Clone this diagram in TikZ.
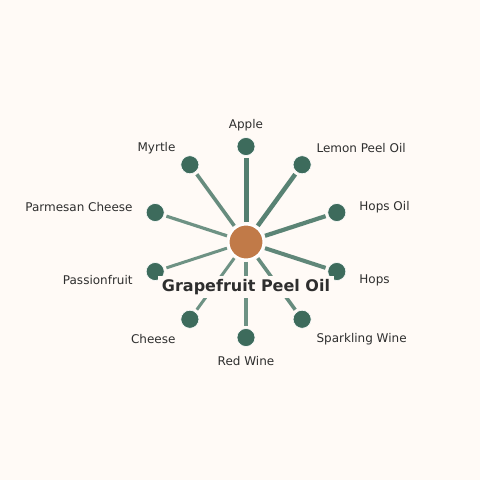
\documentclass[tikz,border=0pt]{standalone}
\usepackage{fontspec}
\setmainfont{DejaVu Sans}
\usetikzlibrary{calc}
\definecolor{bg}{HTML}{FFFAF6}
\definecolor{leaf}{HTML}{3D6B5C}
\definecolor{hub}{HTML}{C17A48}
\definecolor{edgec}{HTML}{4A7868}
\definecolor{txt}{HTML}{2E2E2E}
\tikzset{
  leafnode/.style={circle, fill=leaf, draw=white, line width=0.6pt, minimum size=18pt, inner sep=0pt},
  hubnode/.style={circle, fill=hub, draw=white, line width=2pt, minimum size=35pt, inner sep=0pt},
  lbl/.style={text=txt, font=\fontsize{12}{14}\selectfont, inner sep=1pt, yshift=-1.5pt},
  conn/.style={draw=edgec, shorten <=1.5pt, shorten >=2.5pt},
  title/.style={text=txt, font=\fontsize{16}{19}\selectfont\bfseries, fill=bg, inner xsep=4pt, inner ysep=3pt}
}
\begin{document}
\begin{tikzpicture}[x=1pt,y=1pt]
\fill[bg] (0,0) rectangle (480,480);
\useasboundingbox (0,0) rectangle (480,480);
\coordinate (o) at (246,238);
\node[hubnode] (c) at (o) {};
\node[leafnode] (n1) at ($(o)+(90:95.5)$) {};
\node[leafnode] (n2) at ($(o)+(54:95.5)$) {};
\node[leafnode] (n3) at ($(o)+(18:95.5)$) {};
\node[leafnode] (n4) at ($(o)+(-18:95.5)$) {};
\node[leafnode] (n5) at ($(o)+(-54:95.5)$) {};
\node[leafnode] (n6) at ($(o)+(-90:95.5)$) {};
\node[leafnode] (n7) at ($(o)+(-126:95.5)$) {};
\node[leafnode] (n8) at ($(o)+(-162:95.5)$) {};
\node[leafnode] (n9) at ($(o)+(162:95.5)$) {};
\node[leafnode] (n10) at ($(o)+(126:95.5)$) {};
\draw[conn, line width=5pt, draw opacity=0.95] (c) -- (n1);
\draw[conn, line width=4.5pt, draw opacity=0.92] (c) -- (n2);
\draw[conn, line width=4.2pt, draw opacity=0.9] (c) -- (n3);
\draw[conn, line width=4pt, draw opacity=0.88] (c) -- (n4);
\draw[conn, line width=3.6pt, draw opacity=0.84] (c) -- (n5);
\draw[conn, line width=3.2pt, draw opacity=0.8] (c) -- (n6);
\draw[conn, line width=3pt, draw opacity=0.8] (c) -- (n7);
\draw[conn, line width=3pt, draw opacity=0.8] (c) -- (n8);
\draw[conn, line width=3.2pt, draw opacity=0.8] (c) -- (n9);
\draw[conn, line width=3.6pt, draw opacity=0.84] (c) -- (n10);
\node[lbl, anchor=center] (l1) at ($(o)+(90:118)$) {Apple};
\node[lbl, anchor=west] (l2) at ($(o)+(54:118)$) {Lemon Peel Oil};
\node[lbl, anchor=west] (l3) at ($(o)+(18:118)$) {Hops Oil};
\node[lbl, anchor=west] (l4) at ($(o)+(-18:118)$) {Hops};
\node[lbl, anchor=west] (l5) at ($(o)+(-54:118)$) {Sparkling Wine};
\node[lbl, anchor=center] (l6) at ($(o)+(-90:118)$) {Red Wine};
\node[lbl, anchor=east] (l7) at ($(o)+(-126:118)$) {Cheese};
\node[lbl, anchor=east] (l8) at ($(o)+(-162:118)$) {Passionfruit};
\node[lbl, anchor=east] (l9) at ($(o)+(162:118)$) {Parmesan Cheese};
\node[lbl, anchor=east] (l10) at ($(o)+(126:118)$) {Myrtle};
\node[title] (t) at (246,193) {Grapefruit Peel Oil};
\end{tikzpicture}
\end{document}
